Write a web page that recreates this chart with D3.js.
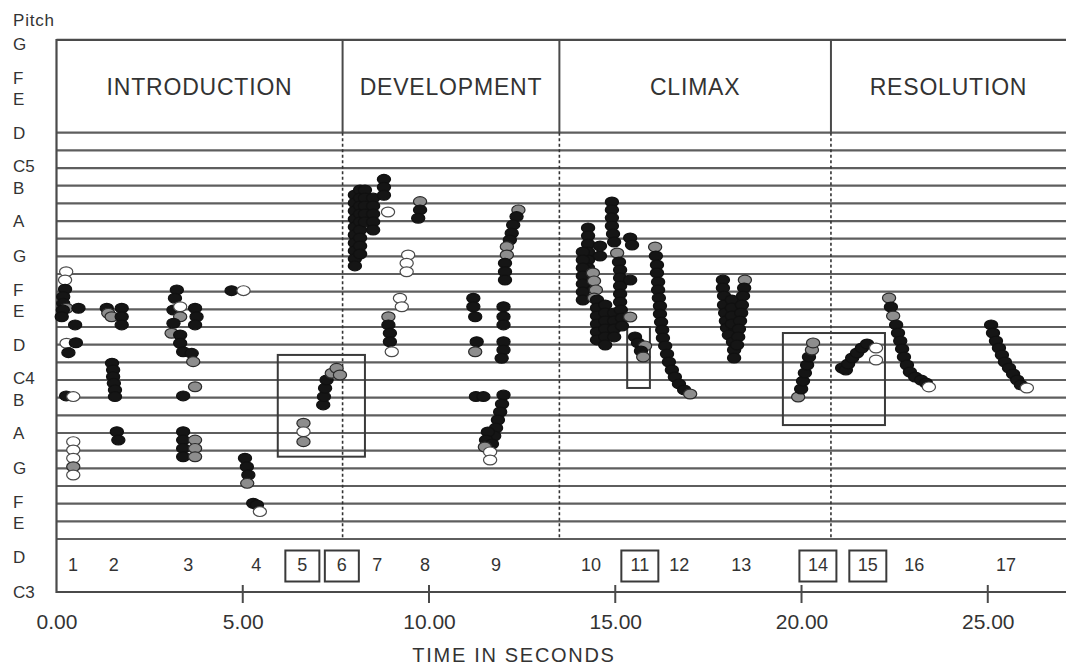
<!DOCTYPE html>
<html><head><meta charset="utf-8">
<script src="https://cdn.jsdelivr.net/npm/d3@7"></script>
<style>
body{margin:0;background:#fff}
svg{display:block}
text{font-family:"Liberation Sans",Arial,Helvetica,sans-serif;fill:#333}
</style>
</head><body>
<svg id="chart" width="1066" height="668"></svg>
<script>
// ---------- DATA ----------
const sectionNames = ["INTRODUCTION", "DEVELOPMENT", "CLIMAX", "RESOLUTION"];
const sectionBounds = [0, 7.68, 13.5, 20.79, 27.1];
const phraseNumbers = ["1","2","3","4","5","6","7","8","9","10","11","12","13","14","15","16","17"];
const phraseTimes = [0.44,1.54,3.54,5.36,6.60,7.66,8.61,9.89,11.8,14.35,15.66,16.72,18.38,20.44,21.78,23.03,25.49];
const boxedPhrases = ["5","6","11","14","15"];
const pitchNames = ["G","F","E","D","C5","B","A","G","F","E","D","C4","B","A","G","F","E","D","C3"];
const pitchMidi  = [79,77,76,74,72,71,69,67,65,64,62,60,59,57,55,53,52,50,48];
const timeTicks = [0,5,10,15,20,25];
const staffLow = 51, staffHigh = 74, pitchTop = 79.25, pitchBottom = 48;
// highlighted regions [t0, t1, pitchLow, pitchHigh]
const focusBoxes = [[5.94,8.28,55.66,61.42],[15.32,15.93,59.55,63.0],[19.50,22.24,57.45,62.66]];

// pitch samples: [time s, pitch (MIDI), shade b=black g=gray w=white]
const phrase1 = [[0.26,66.13,'w'],[0.23,65.66,'w'],[0.23,65.14,'b'],[0.18,64.72,'b'],[0.18,64.34,'b'],[0.27,64.06,'g'],[0.17,63.96,'b'],[0.59,64.06,'b'],[0.14,63.58,'b'],[0.50,63.12,'b'],[0.27,62.08,'w'],[0.52,62.11,'b'],[0.32,61.55,'b'],[0.26,59.10,'b'],[0.45,59.06,'w'],[0.45,56.51,'w'],[0.45,56.04,'w'],[0.45,55.57,'w'],[0.45,55.09,'g'],[0.45,54.62,'w']];
const phrase2 = [[1.35,64.06,'b'],[1.39,63.78,'g'],[1.48,63.58,'g'],[1.75,64.06,'b'],[1.75,63.58,'b'],[1.75,63.12,'b'],[1.49,60.95,'b'],[1.52,60.57,'b'],[1.52,60.19,'b'],[1.54,59.81,'b'],[1.57,59.44,'b'],[1.57,59.06,'b'],[1.62,57.07,'b'],[1.66,56.60,'b']];
const phrase3 = [[3.23,65.10,'b'],[3.18,64.63,'b'],[3.14,63.96,'b'],[3.32,64.15,'w'],[3.32,63.58,'g'],[3.72,64.06,'b'],[3.76,63.58,'b'],[3.72,63.12,'b'],[3.14,63.21,'b'],[3.09,62.65,'g'],[3.32,62.55,'b'],[3.32,62.08,'b'],[3.40,61.60,'b'],[3.63,61.51,'b'],[3.67,61.04,'g'],[3.72,59.62,'g'],[3.40,59.10,'b'],[3.40,57.07,'b'],[3.40,56.60,'b'],[3.40,56.13,'b'],[3.40,55.66,'b'],[3.72,56.60,'g'],[3.72,56.13,'g'],[3.72,55.66,'g']];
const phrase4 = [[4.70,65.06,'b'],[5.02,65.06,'w'],[5.06,55.57,'b'],[5.11,55.09,'b'],[5.15,54.62,'b'],[5.12,54.15,'g'],[5.28,53.02,'b'],[5.38,52.93,'b'],[5.46,52.55,'w']];
const phrase5 = [[6.63,57.55,'g'],[6.63,57.07,'w'],[6.63,56.51,'g']];
const phrase6 = [[7.16,58.59,'b'],[7.18,59.06,'b'],[7.21,59.53,'b'],[7.25,60.00,'b'],[7.39,60.38,'g'],[7.52,60.66,'g'],[7.61,60.28,'g']];
const phrase7 = [[8.01,70.47,'b'],[8.01,70.02,'b'],[8.01,69.57,'b'],[8.01,69.11,'b'],[8.01,68.66,'b'],[8.01,68.21,'b'],[8.01,67.76,'b'],[8.01,67.31,'b'],[8.01,66.86,'b'],[8.01,66.46,'b'],
  [8.15,70.76,'b'],[8.15,70.30,'b'],[8.15,69.85,'b'],[8.15,69.40,'b'],[8.15,68.95,'b'],[8.15,68.49,'b'],[8.15,68.04,'b'],[8.15,67.59,'b'],[8.15,67.13,'b'],
  [8.28,70.76,'b'],[8.28,70.30,'b'],[8.28,69.85,'b'],[8.28,69.40,'b'],[8.28,68.95,'b'],
  [8.50,70.30,'b'],[8.50,69.85,'b'],[8.50,69.40,'b'],[8.50,68.95,'b'],[8.50,68.49,'b'],
  [8.79,71.36,'b'],[8.79,70.91,'b'],[8.79,70.46,'b'],[8.90,69.51,'w']];
const phrase8 = [[9.76,70.10,'g'],[9.76,69.63,'b'],[9.71,69.16,'b'],[9.44,67.08,'w'],[9.40,66.61,'w'],[9.40,66.13,'w'],[9.22,64.63,'w'],[9.27,64.15,'w'],[8.91,63.58,'g'],[8.91,63.12,'b'],[8.95,62.65,'b'],[8.95,62.17,'b'],[9.00,61.60,'w']];
const phrase9 = [[11.19,64.63,'b'],[11.19,64.15,'b'],[11.24,63.58,'b'],[12.00,64.15,'b'],[12.00,63.58,'b'],[12.00,63.12,'b'],[11.28,62.17,'b'],[11.24,61.60,'g'],[12.00,62.17,'b'],[12.00,61.70,'b'],[11.95,61.23,'b'],
  [12.40,69.63,'g'],[12.35,69.25,'b'],[12.26,68.78,'b'],[12.22,68.31,'b'],[12.17,67.93,'b'],[12.09,67.55,'g'],[12.09,67.08,'g'],[12.04,66.61,'b'],[12.04,66.13,'b'],[12.04,65.66,'b'],
  [11.26,59.07,'b'],[11.46,59.06,'b'],[12.00,59.15,'b'],[11.96,58.64,'b'],[11.91,58.19,'b'],[11.85,57.74,'b'],[11.80,57.28,'b'],[11.75,56.83,'b'],[11.58,57.06,'b'],[11.53,56.60,'b'],[11.69,56.38,'b'],[11.50,56.21,'g'],[11.64,55.93,'w'],[11.64,55.47,'w']];
const phrase10 = [[14.27,68.61,'b'],[14.27,68.16,'b'],[14.27,67.70,'b'],[14.27,67.25,'b'],[14.27,66.79,'b'],[14.27,66.34,'b'],[14.27,65.89,'b'],[14.27,65.44,'b'],
  [14.13,67.25,'b'],[14.13,66.79,'b'],[14.13,66.34,'b'],[14.13,65.89,'b'],[14.13,65.44,'b'],[14.13,64.98,'b'],[14.13,64.53,'b'],
  [14.59,67.59,'b'],[14.59,67.02,'b'],
  [14.40,66.06,'g'],[14.43,65.61,'g'],[14.48,65.10,'g'],[14.43,64.64,'g'],
  [14.51,64.53,'b'],[14.51,64.08,'b'],[14.51,63.62,'b'],[14.51,63.17,'b'],[14.51,62.72,'b'],[14.51,62.27,'b'],
  [14.73,64.25,'b'],[14.73,63.79,'b'],[14.73,63.34,'b'],[14.73,62.89,'b'],[14.73,62.44,'b'],[14.73,61.98,'b'],
  [14.97,63.79,'b'],[14.97,63.34,'b'],[14.97,62.89,'b'],[14.97,62.44,'b']];
const phrase11 = [[14.91,70.08,'b'],[14.91,69.63,'b'],[14.91,69.18,'b'],[14.91,68.72,'b'],[14.94,68.27,'b'],[14.97,67.81,'b'],[15.05,67.19,'g'],[15.10,66.68,'b'],[15.13,66.23,'b'],[15.13,65.78,'b'],[15.13,65.32,'b'],[15.13,64.87,'b'],[15.13,64.42,'b'],[15.15,63.96,'b'],[15.18,63.51,'b'],[15.18,63.06,'b'],
  [15.40,68.04,'b'],[15.45,67.64,'b'],[15.40,65.66,'b'],[15.40,63.57,'g'],[15.53,62.44,'b'],[15.61,62.10,'b'],[15.80,61.93,'g'],[15.69,61.64,'b'],[15.75,61.30,'g']];
const phrase12 = [[16.07,67.53,'g'],[16.09,67.02,'b'],[16.12,66.51,'b'],[16.12,66.06,'b'],[16.15,65.55,'b'],[16.15,65.10,'b'],[16.17,64.64,'b'],[16.20,64.19,'b'],[16.20,63.74,'b'],[16.23,63.28,'b'],[16.26,62.83,'b'],[16.28,62.38,'b'],[16.34,61.93,'b'],[16.39,61.47,'b'],[16.44,61.02,'b'],[16.52,60.57,'b'],[16.60,60.17,'b'],[16.71,59.78,'b'],[16.85,59.44,'b'],[17.01,59.21,'g']];
const phrase13 = [[17.89,65.66,'b'],[17.89,65.21,'b'],[17.92,64.76,'b'],[17.92,64.25,'b'],[17.95,63.79,'b'],[17.97,63.34,'b'],[18.00,62.95,'b'],[18.05,62.55,'b'],
  [18.13,64.53,'b'],[18.13,64.08,'b'],[18.13,63.62,'b'],[18.13,63.17,'b'],
  [18.16,62.15,'b'],[18.19,61.70,'b'],[18.19,61.25,'b'],
  [18.48,65.66,'g'],[18.46,65.21,'b'],[18.43,64.76,'b'],[18.40,64.25,'b'],[18.38,63.79,'b'],[18.35,63.34,'b'],[18.32,62.89,'b'],[18.30,62.44,'b'],[18.27,61.98,'b']];
const phrase14 = [[19.91,59.04,'g'],[19.99,59.49,'b'],[20.04,59.94,'b'],[20.09,60.40,'b'],[20.15,60.85,'b'],[20.20,61.30,'b'],[20.28,61.70,'g'],[20.31,62.10,'g']];
const phrase15 = [[21.09,60.68,'b'],[21.19,60.57,'b'],[21.25,60.91,'b'],[21.36,61.25,'b'],[21.49,61.53,'b'],[21.62,61.81,'b'],[21.76,62.04,'b'],[22.00,61.81,'w'],[22.00,61.13,'w']];
const phrase16 = [[22.35,64.64,'g'],[22.40,64.13,'b'],[22.46,63.62,'g'],[22.54,63.12,'b'],[22.59,62.66,'b'],[22.65,62.21,'b'],[22.70,61.76,'b'],[22.75,61.30,'b'],[22.83,60.85,'b'],[22.91,60.45,'b'],[23.05,60.17,'b'],[23.21,60.00,'b'],[23.34,59.83,'b'],[23.42,59.61,'w']];
const phrase17 = [[25.09,63.12,'b'],[25.14,62.66,'b'],[25.22,62.21,'b'],[25.30,61.81,'b'],[25.38,61.42,'b'],[25.46,61.02,'b'],[25.57,60.68,'b'],[25.68,60.34,'b'],[25.79,60.00,'b'],[25.89,59.72,'b'],[26.05,59.55,'w']];
const phrases = [phrase1,phrase2,phrase3,phrase4,phrase5,phrase6,phrase7,phrase8,phrase9,phrase10,phrase11,phrase12,phrase13,phrase14,phrase15,phrase16,phrase17];

// ---------- DRAW ----------
const svg = d3.select('#chart');
const x = d3.scaleLinear().domain([0, 27.1]).range([56.5, 1066]);
const y = d3.scaleLinear().domain([48, 74]).range([592, 132.7]);
const tMax = 27.5;
const lineCol = '#4a4a4a';

// staff lines (one per semitone)
svg.append('g').selectAll('line').data(d3.range(staffLow, staffHigh + 1)).join('line')
  .attr('x1', x(0)).attr('x2', x(tMax)).attr('y1', d => y(d)).attr('y2', d => y(d))
  .attr('stroke', '#5e5e5e').attr('stroke-width', 2.2);

// frame
const frame = svg.append('g').attr('stroke', lineCol).attr('stroke-width', 2.2).attr('fill', 'none');
frame.append('line').attr('x1', x(0)).attr('x2', x(tMax)).attr('y1', y(pitchTop)).attr('y2', y(pitchTop));
frame.append('line').attr('x1', x(0)).attr('x2', x(tMax)).attr('y1', y(pitchBottom)).attr('y2', y(pitchBottom));
frame.append('line').attr('x1', x(0)).attr('x2', x(0)).attr('y1', y(pitchTop) - 1).attr('y2', y(pitchBottom) + 1);

// section dividers
const inner = sectionBounds.slice(1, -1);
svg.append('g').selectAll('line').data(inner).join('line')
  .attr('x1', d => x(d)).attr('x2', d => x(d)).attr('y1', y(pitchTop)).attr('y2', y(staffHigh))
  .attr('stroke', lineCol).attr('stroke-width', 2);
svg.append('g').selectAll('line').data(inner).join('line')
  .attr('x1', d => x(d)).attr('x2', d => x(d)).attr('y1', y(staffHigh)).attr('y2', y(staffLow))
  .attr('stroke', '#333').attr('stroke-width', 1.6).attr('stroke-dasharray', '3,2.5');

// section titles
svg.append('g').selectAll('text').data(sectionNames).join('text')
  .attr('x', (d, i) => x((sectionBounds[i] + sectionBounds[i + 1]) / 2))
  .attr('y', (y(pitchTop) + y(staffHigh)) / 2)
  .attr('dy', '0.36em').attr('text-anchor', 'middle')
  .style('font-size', '23px').style('letter-spacing', '0.8px')
  .text(d => d);

// focus boxes
svg.append('g').selectAll('rect').data(focusBoxes).join('rect')
  .attr('x', d => x(d[0])).attr('y', d => y(d[3]))
  .attr('width', d => x(d[1]) - x(d[0])).attr('height', d => y(d[2]) - y(d[3]))
  .attr('fill', 'none').attr('stroke', '#3a3a3a').attr('stroke-width', 2);

// pitch samples
const fills = {b: '#151515', g: '#8d8d8d', w: '#ffffff'};
const strokes = {b: '#111', g: '#2a2a2a', w: '#4a4a4a'};
svg.append('g').selectAll('ellipse').data(phrases.flat()).join('ellipse')
  .attr('cx', d => x(d[0])).attr('cy', d => y(d[1]))
  .attr('rx', 6.6).attr('ry', 4.9)
  .attr('fill', d => fills[d[2]]).attr('stroke', d => strokes[d[2]]).attr('stroke-width', 1.2);

// phrase numbers
const numY = (y(staffLow) + y(pitchBottom)) / 2 - 1;
const pn = svg.append('g');
pn.selectAll('rect').data(phraseNumbers.map((d, i) => [d, phraseTimes[i]]).filter(d => boxedPhrases.includes(d[0]))).join('rect')
  .attr('x', d => x(d[1]) - (d[0].length > 1 ? 18.5 : 17))
  .attr('y', numY - 14)
  .attr('width', d => d[0].length > 1 ? 37 : 34).attr('height', 31)
  .attr('fill', 'none').attr('stroke', '#3a3a3a').attr('stroke-width', 2);
pn.selectAll('text').data(phraseNumbers).join('text')
  .attr('x', (d, i) => x(phraseTimes[i])).attr('y', numY)
  .attr('dy', '0.36em').attr('text-anchor', 'middle')
  .style('font-size', '18px').text(d => d);

// time axis
const xAxis = d3.axisBottom(x).tickValues(timeTicks).tickFormat(d3.format('.2f')).tickSize(0).tickPadding(22);
const ax = svg.append('g').attr('transform', `translate(0,${y(pitchBottom)})`).call(xAxis);
ax.select('.domain').remove();
ax.selectAll('text').style('font-size', '21px').attr('fill', '#333').style('font-family', '"Liberation Sans",Arial,sans-serif');
svg.append('g').selectAll('line').data(timeTicks.filter(d => d > 0)).join('line')
  .attr('x1', d => x(d)).attr('x2', d => x(d))
  .attr('y1', y(pitchBottom) - 7).attr('y2', y(pitchBottom) + 11)
  .attr('stroke', lineCol).attr('stroke-width', 2);
svg.append('text').attr('x', 514).attr('y', 662).attr('text-anchor', 'middle')
  .style('font-size', '20px').style('letter-spacing', '1.7px').text('TIME IN SECONDS');

// pitch labels (adjacent semitone names nudged apart, as in the original)
const nudge = {1: -1.5, 2: 1.5, 4: -2, 5: 2, 8: -1.5, 9: 1.5, 11: -2, 12: 2, 15: -1.5, 16: 1.5};
svg.append('text').attr('x', 13).attr('y', 26).style('font-size', '17px').style('letter-spacing', '0.8px').text('Pitch');
svg.append('g').selectAll('text').data(pitchNames).join('text')
  .attr('x', 13).attr('y', (d, i) => y(pitchMidi[i]) + (nudge[i] || 0)).attr('dy', '0.36em')
  .style('font-size', '17px').text(d => d);
</script>
</body></html>
